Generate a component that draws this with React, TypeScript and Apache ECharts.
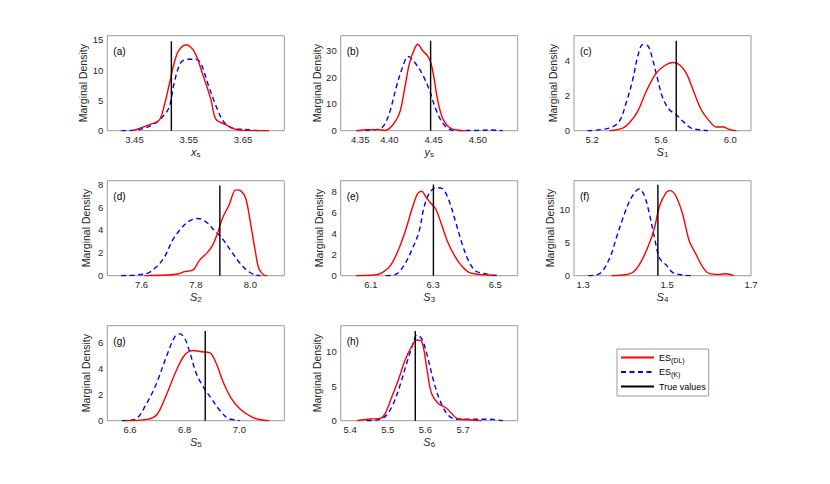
import { useEffect, useRef } from "react";
import * as echarts from "echarts";

const FONT = "'Liberation Sans', Arial, Helvetica, sans-serif";

// ---- data ----
const panelLetters = ["(a)", "(b)", "(c)", "(d)", "(e)", "(f)", "(g)", "(h)"];
const xNameMain = ["x", "y", "S", "S", "S", "S", "S", "S"];
const xNameSub = ["s", "s", "1", "2", "3", "4", "5", "6"];
const xMins = [3.4, 4.345, 5.095, 7.474, 6.003, 1.278, 6.517, 5.375];
const xMaxs = [3.726, 4.545, 6.12, 8.125, 6.572, 1.7, 7.164, 5.845];
const xTickValues = [
  [3.45, 3.55, 3.65],
  [4.367, 4.4, 4.45, 4.5],
  [5.2, 5.6, 6.0],
  [7.6, 7.8, 8.0],
  [6.1, 6.3, 6.5],
  [1.3, 1.5, 1.7],
  [6.6, 6.8, 7.0],
  [5.4, 5.5, 5.6, 5.7],
];
const xTickLabels = [
  ["3.45", "3.55", "3.65"],
  ["4.35", "4.40", "4.45", "4.50"],
  ["5.2", "5.6", "6.0"],
  ["7.6", "7.8", "8.0"],
  ["6.1", "6.3", "6.5"],
  ["1.3", "1.5", "1.7"],
  ["6.6", "6.8", "7.0"],
  ["5.4", "5.5", "5.6", "5.7"],
];
const yMaxs = [15.7, 35.5, 5.4, 8.3, 9.0, 14.3, 7.3, 13.77];
const yTickValues = [
  [0, 5, 10, 15],
  [0, 10, 20, 30],
  [0, 2, 4],
  [0, 2, 4, 6, 8],
  [0, 2, 4, 6, 8],
  [0, 5, 10],
  [0, 2, 4, 6],
  [0, 5, 10],
];
const trueValues = [3.518, 4.4466, 5.687, 7.888, 6.301, 1.478, 6.875, 5.573];
const trueTops = [14.8, 33.6, 5.11, 7.88, 8.65, 13.7, 6.9, 13.0];

const aDL = [[3.447, 0], [3.4775, 1.0], [3.496, 1.8], [3.505, 4.2], [3.514, 7.6], [3.529, 12.8], [3.545, 14.2], [3.56, 13.1], [3.575, 9.5], [3.591, 5.1], [3.6, 1.9], [3.618, 1.0], [3.637, 0.2], [3.655, 0.05], [3.698, 0]];
const aK = [[3.4256, 0], [3.459, 0.2], [3.484, 1.0], [3.502, 2.3], [3.514, 3.9], [3.523, 7.8], [3.535, 11.2], [3.548, 11.8], [3.563, 11.8], [3.572, 11.2], [3.587, 7.3], [3.603, 3.5], [3.615, 1.4], [3.631, 0.4], [3.655, 0.2], [3.673, 0.05], [3.68, 0]];
const bDL = [[4.363, 0], [4.375, 0.4], [4.388, 0.4], [4.395, 0.1], [4.404, 2.2], [4.4115, 6.6], [4.417, 15.3], [4.4227, 25.2], [4.4283, 30.5], [4.432, 32.3], [4.4376, 29.9], [4.4433, 27.9], [4.447, 25.2], [4.4508, 19.0], [4.4545, 11.5], [4.4601, 4.7], [4.4676, 1.3], [4.479, 0.1], [4.4864, 0]];
const bK = [[4.363, 0], [4.385, 0.4], [4.393, 1.6], [4.4, 6.6], [4.408, 16.5], [4.4152, 24.0], [4.421, 27.7], [4.4246, 27.1], [4.432, 24.0], [4.4376, 20.9], [4.4451, 15.3], [4.4526, 7.9], [4.4601, 2.9], [4.4676, 0.6], [4.475, 0.1], [4.5, 0.1], [4.5127, 0.25], [4.528, 0]];
const cDL = [[5.2994, 0], [5.377, 0.15], [5.416, 0.45], [5.464, 1.1], [5.513, 2.23], [5.571, 3.27], [5.619, 3.69], [5.667, 3.88], [5.706, 3.75], [5.745, 3.27], [5.784, 2.33], [5.832, 1.19], [5.881, 0.53], [5.92, 0.21], [5.958, 0.21], [5.997, 0.06], [6.036, 0]];
const cK = [[5.173, 0], [5.299, 0.15], [5.357, 0.53], [5.3965, 1.57], [5.435, 2.9], [5.464, 4.22], [5.493, 4.89], [5.522, 4.83], [5.551, 4.03], [5.58, 2.9], [5.609, 1.86], [5.648, 1.19], [5.687, 0.91], [5.726, 0.53], [5.774, 0.15], [5.842, 0.03], [5.871, 0]];
const dDL = [[7.611, 0], [7.69, 0.06], [7.733, 0.15], [7.757, 0.35], [7.782, 0.44], [7.794, 0.59], [7.812, 1.32], [7.843, 2.06], [7.861, 2.65], [7.879, 3.68], [7.897, 5.0], [7.922, 6.18], [7.947, 7.5], [7.965, 7.41], [7.983, 6.77], [8.001, 4.56], [8.02, 1.91], [8.032, 0.59], [8.05, 0.06], [8.062, 0]];
const dK = [[7.525, 0], [7.58, 0.06], [7.623, 0.23], [7.653, 0.73], [7.684, 1.62], [7.714, 3.1], [7.745, 4.12], [7.775, 4.77], [7.806, 5.0], [7.837, 4.7], [7.867, 3.97], [7.897, 3.24], [7.928, 2.21], [7.959, 1.18], [7.989, 0.44], [8.02, 0.06], [8.038, 0]];
const eDL = [[6.052, 0], [6.111, 0.06], [6.138, 0.32], [6.164, 1.0], [6.191, 2.63], [6.2125, 4.4], [6.234, 6.5], [6.25, 7.76], [6.264, 8.0], [6.277, 7.44], [6.293, 6.86], [6.309, 6.3], [6.325, 5.04], [6.346, 3.27], [6.367, 2.0], [6.389, 1.03], [6.415, 0.32], [6.447, 0.13], [6.479, 0.06], [6.496, 0]];
const eK = [[6.148, 0], [6.18, 0.13], [6.207, 1.0], [6.234, 2.6], [6.255, 4.2], [6.271, 6.5], [6.287, 7.76], [6.309, 8.34], [6.33, 8.24], [6.351, 7.12], [6.373, 5.04], [6.394, 2.96], [6.415, 1.35], [6.437, 0.45], [6.463, 0.22], [6.49, 0.06], [6.517, 0]];
const fDL = [[1.367, 0], [1.395, 0.1], [1.4185, 0.51], [1.438, 2.13], [1.458, 4.92], [1.47, 7.2], [1.482, 10.5], [1.4976, 12.5], [1.507, 12.8], [1.521, 12.0], [1.537, 9.24], [1.553, 5.2], [1.569, 3.2], [1.584, 1.4], [1.6, 0.35], [1.624, 0.2], [1.64, 0.3], [1.659, 0]];
const fK = [[1.312, 0], [1.34, 0.35], [1.363, 2.65], [1.379, 5.7], [1.395, 8.73], [1.411, 11.3], [1.4265, 12.8], [1.434, 13.05], [1.446, 12.0], [1.458, 9.24], [1.47, 5.7], [1.482, 2.65], [1.4976, 1.63], [1.513, 0.51], [1.537, 0.1], [1.561, 0]];
const gDL = [[6.582, 0], [6.661, 0.1], [6.697, 0.44], [6.733, 1.98], [6.77, 3.9], [6.8, 5.05], [6.83, 5.39], [6.861, 5.3], [6.891, 5.23], [6.915, 4.41], [6.94, 3.0], [6.97, 1.72], [7.006, 0.82], [7.048, 0.26], [7.085, 0.05], [7.109, 0]];
const gK = [[6.57, 0], [6.618, 0.1], [6.661, 1.34], [6.697, 2.88], [6.733, 4.92], [6.764, 6.46], [6.782, 6.67], [6.8, 6.33], [6.818, 5.3], [6.842, 3.64], [6.867, 2.62], [6.897, 1.72], [6.927, 0.82], [6.958, 0.18], [6.988, 0.05], [7.0, 0]];
const hDL = [[5.418, 0], [5.453, 0.24], [5.48, 0.34], [5.493, 1.03], [5.511, 3.5], [5.528, 5.9], [5.546, 8.8], [5.563, 10.7], [5.577, 11.7], [5.59, 11.5], [5.603, 7.8], [5.616, 3.97], [5.634, 2.5], [5.656, 1.8], [5.669, 1.07], [5.687, 0.24], [5.726, 0.1], [5.749, 0]];
const hK = [[5.444, 0], [5.48, 0.2], [5.497, 0.82], [5.515, 2.5], [5.533, 5.2], [5.55, 8.3], [5.568, 11.3], [5.577, 12.4], [5.59, 11.9], [5.603, 9.8], [5.621, 5.9], [5.638, 3.0], [5.66, 0.82], [5.683, 0.2], [5.77, 0.2], [5.806, 0]];

const dlCurves = [aDL, bDL, cDL, dDL, eDL, fDL, gDL, hDL];
const kCurves = [aK, bK, cK, dK, eK, fK, gK, hK];

const legendNames = ["DL", "K", "True"];
const legendTexts: Record<string, string> = {
  DL: "{n|ES}{s|(DL)}",
  K: "{n|ES}{s|(K)}",
  True: "{n|True values}",
};

// ---- layout ----
const colLeft = [107.3, 340.7, 574];
const rowTop = [35.7, 180.7, 325.7];
const PW = 177;
const PH = 95;
const TEXT = "#262626";

function buildOption() {
  const grids: any[] = [];
  const xAxes: any[] = [];
  const yAxes: any[] = [];
  const series: any[] = [];
  const graphics: any[] = [];

  for (let i = 0; i < 8; i++) {
    const r = Math.floor(i / 3);
    const c = i % 3;
    const left = colLeft[c];
    const top = rowTop[r];
    grids.push({
      left,
      top,
      width: PW,
      height: PH,
      show: true,
      borderColor: "#9a9a9a",
      borderWidth: 1,
      backgroundColor: "transparent",
      outerBoundsMode: "none",
      containLabel: false,
    });
    const ticks = xTickValues[i];
    const labels = xTickLabels[i];
    xAxes.push({
      type: "value",
      gridIndex: i,
      min: xMins[i],
      max: xMaxs[i],
      name: `{m|${xNameMain[i]}}{s|${xNameSub[i]}}`,
      nameLocation: "middle",
      nameGap: 14,
      nameTextStyle: {
        rich: {
          m: { fontFamily: FONT, fontSize: 11, fontStyle: "italic", color: TEXT, lineHeight: 14 },
          s: { fontFamily: FONT, fontSize: 8, color: TEXT, lineHeight: 4, verticalAlign: "bottom" },
        },
      },
      axisLine: { show: false },
      splitLine: { show: false },
      axisTick: { show: false, customValues: ticks },
      axisLabel: {
        customValues: ticks,
        margin: 4,
        fontFamily: FONT,
        fontSize: 9.5,
        color: TEXT,
        formatter: (v: number) => {
          let best = 0;
          for (let j = 1; j < ticks.length; j++) {
            if (Math.abs(ticks[j] - v) < Math.abs(ticks[best] - v)) best = j;
          }
          return labels[best];
        },
      },
    });
    yAxes.push({
      type: "value",
      gridIndex: i,
      min: 0,
      max: yMaxs[i],
      name: "Marginal Density",
      nameLocation: "middle",
      nameGap: 16,
      nameTextStyle: { fontFamily: FONT, fontSize: 10.5, color: TEXT },
      axisLine: { show: false },
      splitLine: { show: false },
      axisTick: { show: false, customValues: yTickValues[i] },
      axisLabel: {
        customValues: yTickValues[i],
        margin: 4,
        fontFamily: FONT,
        fontSize: 9.5,
        color: TEXT,
      },
    });
    series.push({
      name: "DL",
      type: "line",
      xAxisIndex: i,
      yAxisIndex: i,
      data: dlCurves[i],
      smooth: 0.35,
      symbol: "none",
      showSymbol: false,
      lineStyle: { color: "#ff0000", width: 1.4 },
      itemStyle: { color: "#ff0000" },
      z: 3,
    });
    series.push({
      name: "K",
      type: "line",
      xAxisIndex: i,
      yAxisIndex: i,
      data: kCurves[i],
      smooth: 0.35,
      symbol: "none",
      showSymbol: false,
      lineStyle: { color: "#0000ff", width: 1.4, type: [5, 3.5] },
      itemStyle: { color: "#0000ff" },
      z: 2,
    });
    series.push({
      name: "True",
      type: "line",
      xAxisIndex: i,
      yAxisIndex: i,
      data: [
        [trueValues[i], 0],
        [trueValues[i], trueTops[i]],
      ],
      symbol: "none",
      showSymbol: false,
      lineStyle: { color: "#000000", width: 1.4 },
      itemStyle: { color: "#000000" },
      z: 4,
    });
    graphics.push({
      type: "text",
      x: left + 6,
      y: top + 16,
      style: {
        text: panelLetters[i],
        fontFamily: FONT,
        fontSize: 10,
        fill: "#000",
        verticalAlign: "middle",
      },
    });
  }

  return {
    animation: false,
    backgroundColor: "#ffffff",
    grid: grids,
    xAxis: xAxes,
    yAxis: yAxes,
    series,
    graphic: graphics,
    legend: {
      data: legendNames,
      orient: "vertical",
      left: 617,
      top: 349,
      itemWidth: 33,
      itemHeight: 10,
      itemGap: 4,
      padding: [4, 3, 5, 3],
      borderColor: "#9a9a9a",
      borderWidth: 1,
      backgroundColor: "#ffffff",
      selectedMode: false,
      itemStyle: { color: "transparent", borderColor: "transparent", borderWidth: 0, opacity: 0 },
      formatter: (n: string) => legendTexts[n],
      textStyle: {
        fontFamily: FONT,
        fontSize: 9,
        color: "#000",
        rich: {
          n: { fontFamily: FONT, fontSize: 9, color: "#000", lineHeight: 12 },
          s: { fontFamily: FONT, fontSize: 7, color: "#000", lineHeight: 4, verticalAlign: "bottom" },
        },
      },
    },
  };
}

export default function App() {
  const ref = useRef<HTMLDivElement>(null);
  useEffect(() => {
    if (!ref.current) return;
    const chart = echarts.init(ref.current, null, { renderer: "svg" });
    chart.setOption(buildOption() as any);
    return () => chart.dispose();
  }, []);
  return (
    <div
      ref={ref}
      style={{ position: "absolute", left: 0, top: 0, width: 830, height: 484, background: "#fff" }}
    />
  );
}
